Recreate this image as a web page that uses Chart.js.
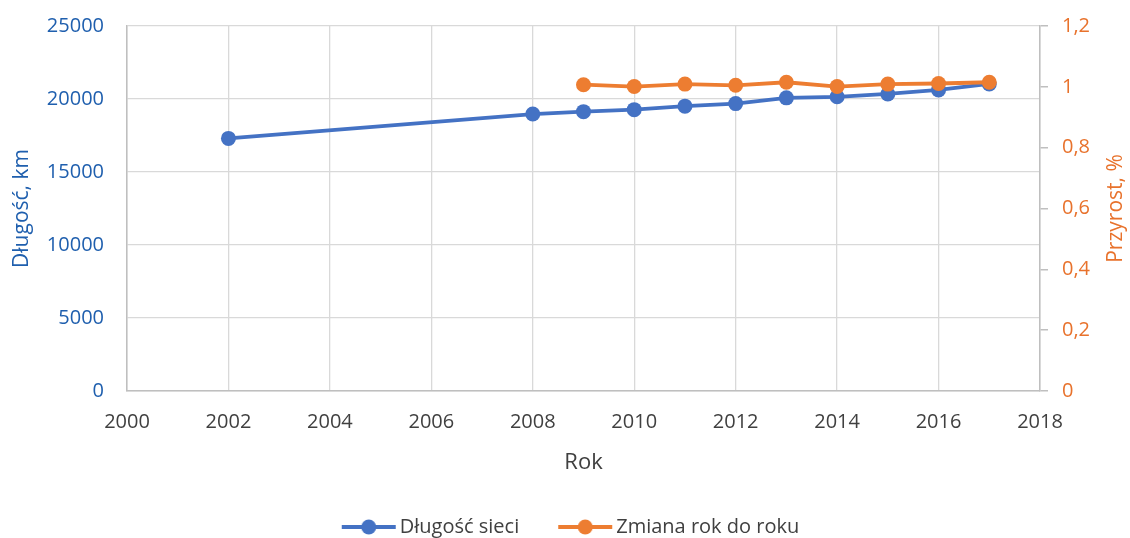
<!DOCTYPE html>
<html>
<head>
<meta charset="utf-8">
<script src="https://cdn.jsdelivr.net/npm/chart.js@4"></script>
<style>
  html, body { margin: 0; padding: 0; background: #fff; }
  #wrap { width: 1130px; height: 538px; }
</style>
</head>
<body>
<div id="wrap"><canvas id="myChart" width="1130" height="538"></canvas></div>
<script>
// Dane
const lata = [2002, 2008, 2009, 2010, 2011, 2012, 2013, 2014, 2015, 2016, 2017];
const dlugoscSieci = [17300, 18970, 19135, 19270, 19510, 19685, 20080, 20150, 20345, 20625, 21030];
const lataZmiana = [2009, 2010, 2011, 2012, 2013, 2014, 2015, 2016, 2017];
const zmianaRokDoRoku = [1.007, 1.001, 1.009, 1.005, 1.015, 1.001, 1.009, 1.011, 1.015];
const xTicks = [2000, 2002, 2004, 2006, 2008, 2010, 2012, 2014, 2016, 2018];
const yLeftTicks = [0, 5000, 10000, 15000, 20000, 25000];
const yRightTicks = [0, 0.2, 0.4, 0.6, 0.8, 1, 1.2];
const tytulPrawy = 'Przyrost, %';

const niebieski = '#4472C4';
const pomaranczowy = '#ED7D31';
const tekstNiebieski = '#1F5FAE';
const tekstPomaranczowy = '#E8722C';
const szary = '#404040';
const FONT = "'Open Sans', 'Noto Sans', sans-serif";

// ikona legendy: linia z kółkiem
function ikona(kolor) {
  const c = document.createElement('canvas');
  c.width = 91; c.height = 18;
  const g = c.getContext('2d');
  g.strokeStyle = kolor; g.lineWidth = 3.8;
  g.beginPath(); g.moveTo(36, 9); g.lineTo(90, 9); g.stroke();
  g.fillStyle = kolor;
  g.beginPath(); g.arc(63, 9, 7.5, 0, Math.PI * 2); g.fill();
  return c;
}

// tytuł prawej osi czytany od dołu do góry
const tytulPrawejOsi = {
  id: 'tytulPrawejOsi',
  afterDraw(chart) {
    const a = chart.chartArea;
    const c = chart.ctx;
    c.save();
    c.translate(1116, (a.top + a.bottom) / 2);
    c.rotate(-Math.PI / 2);
    c.fillStyle = tekstPomaranczowy;
    c.font = "21px 'Open Sans', 'Noto Sans', sans-serif";
    c.textAlign = 'center';
    c.textBaseline = 'middle';
    c.fillText(tytulPrawy, 0, 0);
    c.restore();
  },
};

const ctx1 = document.getElementById('myChart').getContext('2d');
const myChart = new Chart(ctx1, {
  type: 'line',
  data: {
    datasets: [
      {
        label: 'Długość sieci',
        data: lata.map((r, i) => ({ x: r, y: dlugoscSieci[i] })),
        borderColor: niebieski,
        backgroundColor: niebieski,
        borderWidth: 3.8,
        pointRadius: 7.5,
        pointHoverRadius: 7.5,
        pointBorderWidth: 0,
        yAxisID: 'y',
        order: 1,
      },
      {
        label: 'Zmiana rok do roku',
        data: lataZmiana.map((r, i) => ({ x: r, y: zmianaRokDoRoku[i] })),
        borderColor: pomaranczowy,
        backgroundColor: pomaranczowy,
        borderWidth: 3.8,
        pointRadius: 7.5,
        pointHoverRadius: 7.5,
        pointBorderWidth: 0,
        yAxisID: 'y1',
        order: 0,
      },
    ],
  },
  plugins: [tytulPrawejOsi],
  options: {
    responsive: false,
    animation: false,
    layout: { padding: { top: 0, bottom: -9, left: 0, right: 18 } },
    plugins: {
      tooltip: { enabled: false },
      legend: {
        position: 'bottom',
        labels: {
          usePointStyle: true,
          pointStyleWidth: 77,
          padding: 10,
          color: szary,
          font: { family: FONT, size: 20 },
          generateLabels: (chart) => chart.data.datasets.map((ds, i) => ({
            text: ds.label,
            datasetIndex: i,
            pointStyle: ikona(ds.borderColor),
            fontColor: szary,
            hidden: false,
            lineWidth: 0,
          })),
        },
      },
    },
    scales: {
      x: {
        type: 'linear',
        min: 2000,
        max: 2018,
        afterBuildTicks: (axis) => { axis.ticks = xTicks.map(v => ({ value: v })); },
        afterFit: (axis) => { axis.height = 116; },
        grid: { color: '#D9D9D9', lineWidth: 1.3, drawTicks: false },
        border: { color: '#BFBFBF', width: 1.5 },
        ticks: { color: szary, padding: 19, font: { family: FONT, size: 20 }, callback: v => String(v) },
        title: { display: true, text: 'Rok', color: szary, font: { family: FONT, size: 22 }, padding: 31 },
      },
      y: {
        position: 'left',
        min: 0,
        max: 25000,
        afterBuildTicks: (axis) => { axis.ticks = yLeftTicks.map(v => ({ value: v })); },
        afterFit: (axis) => { axis.width = 127; },
        grid: { color: '#D9D9D9', lineWidth: 1.3, tickLength: 23, tickColor: 'rgba(0,0,0,0)' },
        border: { color: '#BFBFBF', width: 1.5 },
        ticks: { color: tekstNiebieski, padding: 0, font: { family: FONT, size: 20 }, callback: v => String(v) },
        title: { display: true, text: 'Długość, km', color: tekstNiebieski, font: { family: FONT, size: 21 }, padding: { top: 9, bottom: 0 } },
      },
      y1: {
        position: 'right',
        min: 0,
        max: 1.2,
        afterBuildTicks: (axis) => { axis.ticks = yRightTicks.map(v => ({ value: v })); },
        afterFit: (axis) => { axis.width = 72; },
        grid: { drawOnChartArea: false, color: '#BFBFBF', tickLength: 8, lineWidth: 1.5 },
        border: { color: '#BFBFBF', width: 1.5 },
        ticks: { color: tekstPomaranczowy, padding: 14, font: { family: FONT, size: 20 }, callback: v => String(Math.round(v * 10) / 10).replace('.', ',') },
      },
    },
  },
});
</script>
</body>
</html>
